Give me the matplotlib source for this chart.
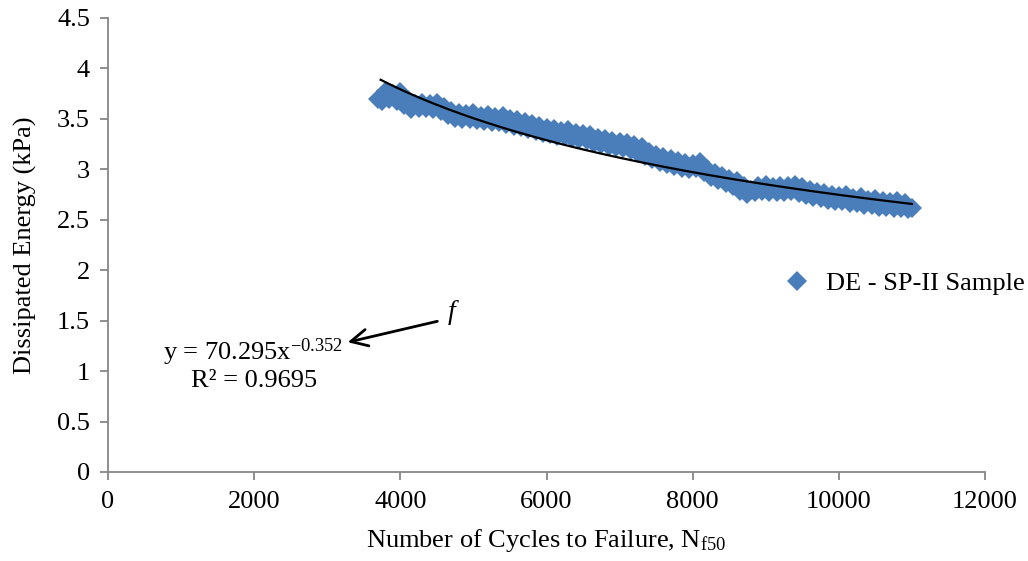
import numpy as np
import matplotlib
matplotlib.use("Agg")
import matplotlib.pyplot as plt

plt.rcParams['font.family'] = ['Liberation Serif', 'DejaVu Serif']
plt.rcParams['mathtext.fontset'] = 'custom'
plt.rcParams['mathtext.rm'] = 'Liberation Serif'
plt.rcParams['mathtext.it'] = 'Liberation Serif:italic'

# cycles and dissipated energy (upper edge of the band)
cycles_a = [3700, 3800, 3900, 4000, 4100, 4200, 4300, 4400, 4500, 4600,
            4700, 4800, 4900, 5000, 5100, 5200, 5300, 5400, 5500, 5600,
            5700, 5800, 5900, 6000, 6100, 6200, 6300, 6400, 6500, 6600,
            6700, 6800, 6900, 7000, 7100, 7200, 7300, 7400, 7500, 7600,
            7700, 7800, 7900, 8000, 8100, 8200, 8300, 8400, 8500, 8600,
            8700, 8800, 8900, 9000, 9100, 9200, 9300, 9400, 9500, 9600,
            9700, 9800, 9900, 10000, 10100, 10200, 10300, 10400, 10500, 10600,
            10700, 10800, 10900, 11000]
energy_a = [3.70, 3.78, 3.75, 3.77, 3.69, 3.65, 3.66, 3.65, 3.66, 3.62,
            3.58, 3.56, 3.55, 3.56, 3.53, 3.54, 3.52, 3.53, 3.50, 3.49,
            3.47, 3.45, 3.43, 3.41, 3.40, 3.38, 3.39, 3.36, 3.35, 3.34,
            3.31, 3.30, 3.28, 3.27, 3.26, 3.24, 3.22, 3.17, 3.14, 3.12,
            3.10, 3.08, 3.06, 3.05, 3.07, 3.00, 2.96, 2.93, 2.90, 2.88,
            2.83, 2.80, 2.83, 2.84, 2.82, 2.83, 2.83, 2.84, 2.82, 2.80,
            2.78, 2.77, 2.75, 2.74, 2.75, 2.72, 2.73, 2.70, 2.71, 2.69,
            2.68, 2.69, 2.67, 2.62]

# lower edge of the band
cycles_b = [3750, 3850, 3950, 4050, 4150, 4250, 4350, 4450, 4550, 4650,
            4750, 4850, 4950, 5050, 5150, 5250, 5350, 5450, 5550, 5650,
            5750, 5850, 5950, 6050, 6150, 6250, 6350, 6450, 6550, 6650,
            6750, 6850, 6950, 7050, 7150, 7250, 7350, 7450, 7550, 7650,
            7750, 7850, 7950, 8050, 8150, 8250, 8350, 8450, 8550, 8650,
            8750, 8850, 8950, 9050, 9150, 9250, 9350, 9450, 9550, 9650,
            9750, 9850, 9950, 10050, 10150, 10250, 10350, 10450, 10550, 10650,
            10750, 10850, 10950]
energy_b = [3.68, 3.70, 3.68, 3.64, 3.60, 3.61, 3.61, 3.60, 3.58, 3.54,
            3.51, 3.50, 3.50, 3.49, 3.48, 3.47, 3.47, 3.45, 3.43, 3.42,
            3.40, 3.38, 3.36, 3.35, 3.33, 3.33, 3.31, 3.30, 3.29, 3.26,
            3.25, 3.23, 3.22, 3.21, 3.19, 3.16, 3.13, 3.10, 3.07, 3.05,
            3.03, 3.01, 3.00, 3.01, 2.97, 2.92, 2.89, 2.86, 2.83, 2.79,
            2.76, 2.78, 2.79, 2.78, 2.78, 2.78, 2.79, 2.77, 2.75, 2.73,
            2.72, 2.70, 2.69, 2.69, 2.67, 2.67, 2.65, 2.65, 2.63, 2.63,
            2.62, 2.62, 2.61]

# power trendline y = a * x^b, as printed on the chart
fit_a = 70.295
fit_b = -0.352
fit_r2 = 0.9695

x_ticks = [0, 2000, 4000, 6000, 8000, 10000, 12000]
y_ticks = [0, 0.5, 1, 1.5, 2, 2.5, 3, 3.5, 4, 4.5]

blue = '#4A7EBB'
grey = '#868686'
fs = 19

cycles = cycles_a + cycles_b
energy = energy_a + energy_b

fig = plt.figure(figsize=(10.28, 5.61), dpi=100)
ax = fig.add_axes([108 / 1028, 89 / 561, 877 / 1028, 454 / 561])

ax.plot(cycles, energy, linestyle='none', marker='D', markersize=10.5,
        color=blue, markeredgewidth=0, label='DE - SP-II Sample', zorder=2)

xs = np.linspace(3730, max(cycles), 200)
ax.plot(xs, fit_a * xs ** fit_b, color='black', linewidth=1.6, zorder=3)

ax.set_xlim(0, 12000)
ax.set_ylim(0, 4.5)
ax.set_xticks(x_ticks)
ax.set_yticks(y_ticks)
ax.set_yticklabels([f'{v:g}' for v in y_ticks])

for side in ['top', 'right']:
    ax.spines[side].set_visible(False)
for side in ['left', 'bottom']:
    ax.spines[side].set_color(grey)
    ax.spines[side].set_linewidth(1.3)
ax.tick_params(axis='both', colors=grey, labelcolor='black', labelsize=fs,
               length=6, width=1.3, direction='out')
ax.tick_params(axis='y', pad=7)
ax.tick_params(axis='x', pad=8)

ax.set_xlabel('Number of Cycles to Failure, N$_{\\mathregular{f50}}$', fontsize=fs, labelpad=10)
ax.set_ylabel('Dissipated Energy (kPa)', fontsize=fs, labelpad=14)

ax.text(1985, 1.19, 'y = %.3fx$^{\\mathregular{%.3f}}$' % (fit_a, fit_b),
        fontsize=fs, ha='center', va='center')
ax.text(1998, 0.90, 'R² = %.4f' % fit_r2, fontsize=fs, ha='center', va='center')
ax.annotate('', xy=(3243, 1.28), xytext=(4543, 1.50),
            arrowprops=dict(arrowstyle='->', color='black', lw=2, mutation_scale=30))
ax.text(4707, 1.58, 'f', fontsize=20, style='italic', ha='center', va='center')

ax.legend(loc='center left', bbox_to_anchor=(768 / 1028, 1 - 283 / 561),
          bbox_transform=fig.transFigure, frameon=False, fontsize=fs,
          handletextpad=0.5, markerscale=1.0, handlelength=1.2, borderpad=0)

fig.savefig('out.png', dpi=100)
